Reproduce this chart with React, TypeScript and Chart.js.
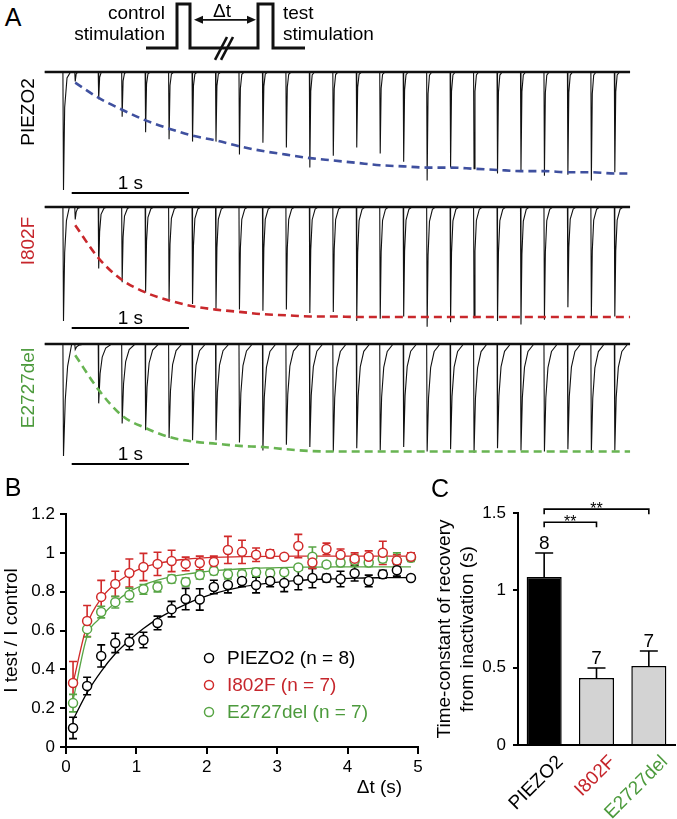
import React, { useEffect, useRef } from 'react';
import { Chart, registerables } from 'chart.js';

Chart.register(...registerables);

const FONT = '"Liberation Sans", Arial, Helvetica, sans-serif';
const RED = '#d12a2a';
const GREEN = '#58a545';
const BLUE = '#3f509f';
const RED_DASH = '#c9282c';
const GREEN_DASH = '#68b452';

// ---------------- Panel A : stimulation schematic ----------------
const STIM_X = [6, 37, 37, 50, 50, 118, 118, 133, 133, 165];
const STIM_Y = [0, 0, 1, 1, 0, 0, 1, 1, 0, 0];

// ---------------- Panel A : current traces ----------------
const TRACE_NAMES = ['PIEZO2', 'I802F', 'E2727del'];
const TEST_TIMES = [0.1, 0.3, 0.5, 0.7, 0.9, 1.1, 1.3, 1.5, 1.7, 1.9, 2.1, 2.3, 2.5, 2.7, 2.9, 3.1, 3.3, 3.5, 3.7, 3.9, 4.1, 4.3, 4.5, 4.7];
const PIEZO2_PEAKS = [0.08, 0.23, 0.38, 0.51, 0.57, 0.59, 0.59, 0.7, 0.6, 0.64, 0.81, 0.71, 0.64, 0.69, 0.76, 0.92, 0.81, 0.82, 0.86, 0.84, 0.88, 0.87, 0.92, 0.85];
const I802F_PEAKS = [0.11, 0.54, 0.66, 0.75, 0.82, 0.85, 0.89, 0.9, 0.91, 0.9, 0.93, 0.92, 1.0, 0.98, 0.96, 1.05, 1.01, 0.97, 1.0, 1.03, 0.99, 0.88, 0.96, 0.96];
const E2727DEL_PEAKS = [0.05, 0.53, 0.71, 0.77, 0.84, 0.86, 0.86, 0.88, 0.95, 0.9, 0.92, 0.96, 0.93, 0.95, 0.92, 0.96, 0.94, 0.97, 0.93, 0.95, 0.96, 0.94, 0.97, 0.95];
const TRACE_START = -0.16;
const TRACE_END = 4.83;
const FIT_TIMES_A = [...TEST_TIMES, TRACE_END];
const PIEZO2_FIT_A = [0.09, 0.22, 0.32, 0.41, 0.48, 0.54, 0.58, 0.63, 0.67, 0.7, 0.73, 0.75, 0.77, 0.79, 0.8, 0.81, 0.81, 0.82, 0.83, 0.84, 0.84, 0.85, 0.85, 0.86, 0.86];
const I802F_FIT_A = [0.16, 0.45, 0.64, 0.75, 0.82, 0.87, 0.9, 0.92, 0.94, 0.95, 0.96, 0.96, 0.965, 0.965, 0.965, 0.965, 0.965, 0.965, 0.965, 0.965, 0.965, 0.965, 0.965, 0.965, 0.965];
const E2727DEL_FIT_A = [0.1, 0.41, 0.64, 0.75, 0.83, 0.87, 0.89, 0.91, 0.92, 0.94, 0.955, 0.96, 0.96, 0.96, 0.96, 0.96, 0.96, 0.96, 0.96, 0.96, 0.96, 0.96, 0.96, 0.96, 0.96];

// spike waveform templates: [time offset (s), fraction of peak]
const NEEDLE_TEST = [[-0.004, 0], [0, -1], [0.008, -0.2], [0.02, -0.03], [0.04, 0]];
const NEEDLE_CTRL = [[-0.005, 0], [0, -1], [0.01, -0.3], [0.03, -0.05], [0.06, 0]];
const SLOW_TEST = [[-0.004, 0], [0, -1], [0.008, -0.4], [0.02, -0.12], [0.045, -0.02], [0.07, 0]];
const SLOW_CTRL = [[-0.005, 0], [0, -1], [0.01, -0.4], [0.025, -0.12], [0.05, 0]];
const SLOWER_TEST = [[-0.004, 0], [0, -1], [0.012, -0.5], [0.03, -0.22], [0.06, -0.07], [0.11, 0]];
const SLOWER_CTRL = [[-0.005, 0], [0, -1], [0.015, -0.5], [0.035, -0.2], [0.07, 0]];

// ---------------- Panel B ----------------
const DT = [0.1, 0.3, 0.5, 0.7, 0.9, 1.1, 1.3, 1.5, 1.7, 1.9, 2.1, 2.3, 2.5, 2.7, 2.9, 3.1, 3.3, 3.5, 3.7, 3.9, 4.1, 4.3, 4.5, 4.7, 4.9];
const PIEZO2_B = [0.098, 0.314, 0.469, 0.536, 0.541, 0.551, 0.639, 0.71, 0.762, 0.76, 0.824, 0.834, 0.855, 0.834, 0.855, 0.845, 0.86, 0.87, 0.87, 0.865, 0.895, 0.855, 0.89, 0.91, 0.87];
const PIEZO2_ERR = [0.055, 0.045, 0.057, 0.05, 0.04, 0.04, 0.035, 0.04, 0.055, 0.055, 0.035, 0.04, 0.03, 0.04, 0.03, 0.045, 0.05, 0.05, 0.02, 0.04, 0.04, 0.03, 0.02, 0.03, 0.01];
const I802F_B = [0.33, 0.649, 0.773, 0.84, 0.896, 0.927, 0.943, 0.958, 0.943, 0.948, 0.953, 1.015, 1.005, 0.99, 0.995, 0.98, 1.035, 0.95, 1.02, 0.99, 0.97, 0.98, 1.0, 0.96, 0.98];
const I802F_ERR = [0.11, 0.08, 0.085, 0.065, 0.072, 0.07, 0.06, 0.055, 0.035, 0.035, 0.03, 0.07, 0.06, 0.035, 0.02, 0.01, 0.06, 0.03, 0.03, 0.03, 0.03, 0.03, 0.06, 0.03, 0.02];
const E2727DEL_B = [0.226, 0.607, 0.695, 0.746, 0.783, 0.812, 0.824, 0.865, 0.85, 0.886, 0.907, 0.89, 0.89, 0.9, 0.895, 0.9, 0.925, 0.98, 0.94, 0.95, 0.96, 0.95, 0.97, 0.96, 0.975];
const E2727DEL_ERR = [0.045, 0.04, 0.03, 0.03, 0.035, 0.025, 0.025, 0.02, 0.02, 0.02, 0.02, 0.025, 0.02, 0.02, 0.02, 0.015, 0.01, 0.05, 0.01, 0.02, 0.03, 0.02, 0.02, 0.04, 0.02];
const FIT_T_B = [0.1, 0.3, 0.5, 0.7, 0.9, 1.1, 1.3, 1.5, 1.7, 1.9, 2.1, 2.5, 2.9, 3.3, 3.7, 4.1, 4.5, 4.9];
const PIEZO2_FIT_B = [0.14, 0.28, 0.39, 0.48, 0.55, 0.61, 0.66, 0.7, 0.735, 0.765, 0.79, 0.825, 0.845, 0.858, 0.865, 0.87, 0.872, 0.873];
const I802F_FIT_B = [0.33, 0.63, 0.765, 0.84, 0.89, 0.925, 0.945, 0.958, 0.967, 0.973, 0.977, 0.98, 0.982, 0.983, 0.983, 0.983, 0.983, 0.983];
const E2727DEL_FIT_B = [0.24, 0.57, 0.67, 0.745, 0.8, 0.835, 0.86, 0.878, 0.89, 0.9, 0.908, 0.918, 0.923, 0.926, 0.927, 0.928, 0.928, 0.928];
const LEGEND_B = ['PIEZO2 (n = 8)', 'I802F (n = 7)', 'E2727del (n = 7)'];
const X_TICKS_B = [0, 1, 2, 3, 4, 5];

// ---------------- Panel C ----------------
const GROUPS = ['PIEZO2', 'I802F', 'E2727del'];
const TAU = [1.086, 0.433, 0.511];
const TAU_ERR = [0.155, 0.065, 0.097];
const N_CELLS = [8, 7, 7];
const SIG_PAIRS = [[0, 1, 1.44, '**'], [0, 2, 1.525, '**']];

const GROUP_TEXT = ['#000', '#c6262c', '#4c9a3c'];
const BAR_FILL = ['#000000', '#d3d3d3', '#d3d3d3'];

function fmt(v: number) {
  return String(Math.round(v * 10) / 10);
}

function buildTrace(peaks: number[], testShape: number[][], ctrlShape: number[][]) {
  const pts: { x: number; y: number }[] = [{ x: TRACE_START, y: 0 }];
  ctrlShape.forEach(([dt, f]) => pts.push({ x: dt, y: f }));
  TEST_TIMES.forEach((t, i) => testShape.forEach(([dt, f]) => pts.push({ x: t + dt, y: f * peaks[i] })));
  pts.push({ x: TRACE_END, y: 0 });
  return pts;
}

// trace panel geometry (page px)
const X0 = 63.5; // page x of the control pulse
const PX_PER_S = 117.3;
const TRACE_LEFT = 40;
const TRACE_WIDTH = 600;

const TRACES = [
  { peaks: PIEZO2_PEAKS, fit: PIEZO2_FIT_A, test: NEEDLE_TEST, ctrl: NEEDLE_CTRL, fitColor: BLUE, top: 60, height: 145, base: 72, peak: 190, bar: 193 },
  { peaks: I802F_PEAKS, fit: I802F_FIT_A, test: SLOW_TEST, ctrl: SLOW_CTRL, fitColor: RED_DASH, top: 198, height: 140, base: 207, peak: 321, bar: 328 },
  { peaks: E2727DEL_PEAKS, fit: E2727DEL_FIT_A, test: SLOWER_TEST, ctrl: SLOWER_CTRL, fitColor: GREEN_DASH, top: 335, height: 140, base: 344, peak: 456, bar: 464 },
];

const baseOptions = {
  responsive: false,
  animation: false as const,
  devicePixelRatio: 1,
  events: [] as any[],
  plugins: { legend: { display: false }, tooltip: { enabled: false } },
};

function stimConfig(): any {
  const h = 66, base = 48, top = 4;
  const unit = base - top;
  return {
    type: 'line',
    data: {
      datasets: [{
        data: STIM_X.map((x, i) => ({ x, y: STIM_Y[i] })),
        borderColor: '#111', borderWidth: 3, pointRadius: 0, tension: 0,
        borderJoinStyle: 'miter', borderCapStyle: 'butt',
      }],
    },
    options: {
      ...baseOptions,
      layout: { padding: 0, autoPadding: false },
      scales: {
        x: { type: 'linear', display: false, min: 0, max: 170 },
        y: { type: 'linear', display: false, min: -(h - base) / unit, max: 1 + top / unit },
      },
    },
    plugins: [{
      id: 'stimDeco',
      afterDatasetsDraw(chart: any) {
        const { ctx } = chart;
        const xs = chart.scales.x, ys = chart.scales.y;
        ctx.save();
        ctx.strokeStyle = '#111';
        ctx.fillStyle = '#111';
        ctx.lineWidth = 1.6;
        const ay = ys.getPixelForValue(0.64);
        const ax1 = xs.getPixelForValue(54), ax2 = xs.getPixelForValue(116);
        ctx.beginPath(); ctx.moveTo(ax1 + 4, ay); ctx.lineTo(ax2 - 4, ay); ctx.stroke();
        [[ax1, 1], [ax2, -1]].forEach(([x, d]) => {
          ctx.beginPath(); ctx.moveTo(x, ay); ctx.lineTo(x + d * 9, ay - 4); ctx.lineTo(x + d * 9, ay + 4); ctx.closePath(); ctx.fill();
        });
        // break marks
        ctx.lineWidth = 2.6;
        [[75, 87], [81, 93]].forEach(([a, b]) => {
          ctx.beginPath();
          ctx.moveTo(xs.getPixelForValue(a), ys.getPixelForValue(-0.27));
          ctx.lineTo(xs.getPixelForValue(b), ys.getPixelForValue(0.25));
          ctx.stroke();
        });
        ctx.restore();
      },
    }],
  };
}

function traceConfig(tr: any): any {
  const unit = tr.peak - tr.base;
  const yMax = (tr.base - tr.top) / unit;
  const yMin = -(tr.top + tr.height - tr.base) / unit;
  const xMin = (TRACE_LEFT - X0) / PX_PER_S;
  const xMax = (TRACE_LEFT + TRACE_WIDTH - X0) / PX_PER_S;
  return {
    type: 'line',
    data: {
      datasets: [
        { data: FIT_TIMES_A.map((t, i) => ({ x: t, y: -tr.fit[i] })), borderColor: tr.fitColor, borderWidth: 2.6, borderDash: [8, 5], pointRadius: 0, cubicInterpolationMode: 'monotone', order: 1 },
        { data: buildTrace(tr.peaks, tr.test, tr.ctrl), borderColor: '#111', borderWidth: 1.1, pointRadius: 0, tension: 0, order: 2 },
        { data: [{ x: TRACE_START, y: 0 }, { x: TRACE_END, y: 0 }], borderColor: '#111', borderWidth: 2.6, pointRadius: 0, order: 3 },
      ],
    },
    options: {
      ...baseOptions,
      layout: { padding: 0, autoPadding: false },
      scales: {
        x: { type: 'linear', display: false, min: xMin, max: xMax },
        y: { type: 'linear', display: false, min: yMin, max: yMax },
      },
    },
    plugins: [{
      id: 'scaleBar',
      afterDatasetsDraw(chart: any) {
        const { ctx } = chart;
        const xs = chart.scales.x;
        const y = tr.bar - tr.top;
        const x1 = xs.getPixelForValue(0.07), x2 = xs.getPixelForValue(1.07);
        ctx.save();
        ctx.strokeStyle = '#000'; ctx.lineWidth = 2;
        ctx.beginPath(); ctx.moveTo(x1, y); ctx.lineTo(x2, y); ctx.stroke();
        ctx.fillStyle = '#000';
        ctx.font = `19px ${FONT}`;
        ctx.textAlign = 'center'; ctx.textBaseline = 'alphabetic';
        ctx.fillText('1 s', (x1 + x2) / 2, y - 4);
        ctx.restore();
      },
    }],
  };
}

const errorBarPlugin = {
  id: 'errorBarsB',
  beforeDatasetsDraw(chart: any) {
    const { ctx } = chart;
    const xs = chart.scales.x, ys = chart.scales.y;
    ctx.save();
    chart.data.datasets.forEach((ds: any) => {
      if (!ds.errors) return;
      ctx.strokeStyle = ds.borderColor;
      ctx.lineWidth = 1.6;
      ds.data.forEach((p: any, i: number) => {
        const e = ds.errors[i];
        if (!e) return;
        const x = xs.getPixelForValue(p.x);
        const yt = ys.getPixelForValue(p.y + e), yb = ys.getPixelForValue(p.y - e);
        ctx.beginPath();
        ctx.moveTo(x, yt); ctx.lineTo(x, yb);
        ctx.moveTo(x - 4, yt); ctx.lineTo(x + 4, yt);
        ctx.moveTo(x - 4, yb); ctx.lineTo(x + 4, yb);
        ctx.stroke();
      });
    });
    ctx.restore();
  },
};

const legendPluginB = {
  id: 'legendB',
  afterDatasetsDraw(chart: any) {
    const { ctx, chartArea } = chart;
    const colors = ['#000', RED, GREEN];
    const textColors = ['#000', '#c6262c', '#4c9a3c'];
    ctx.save();
    LEGEND_B.forEach((label, i) => {
      const cx = chartArea.left + 143;
      const cy = chartArea.top + 144 + i * 27;
      ctx.beginPath();
      ctx.arc(cx, cy, 4.5, 0, Math.PI * 2);
      ctx.fillStyle = '#fff'; ctx.fill();
      ctx.strokeStyle = colors[i]; ctx.lineWidth = 1.5; ctx.stroke();
      ctx.fillStyle = textColors[i];
      ctx.font = `19px ${FONT}`;
      ctx.textAlign = 'left'; ctx.textBaseline = 'middle';
      ctx.fillText(label, cx + 18, cy + 1);
    });
    ctx.restore();
  },
};

function panelBConfig(): any {
  const scatter = (ys: number[], errs: number[], color: string) => ({
    type: 'scatter',
    data: DT.map((t, i) => ({ x: t, y: ys[i] })),
    errors: errs,
    borderColor: color, backgroundColor: '#fff', pointRadius: 4.5, pointBorderWidth: 1.5,
    showLine: false, order: 1,
  });
  const fit = (ys: number[], color: string) => ({
    type: 'line',
    data: FIT_T_B.map((t, i) => ({ x: t, y: ys[i] })),
    borderColor: color, borderWidth: 1.3, pointRadius: 0, cubicInterpolationMode: 'monotone', order: 2,
  });
  const tickFont = { family: FONT, size: 17 };
  return {
    type: 'scatter',
    data: {
      datasets: [
        scatter(PIEZO2_B, PIEZO2_ERR, '#000'),
        scatter(I802F_B, I802F_ERR, RED),
        scatter(E2727DEL_B, E2727DEL_ERR, GREEN),
        fit(PIEZO2_FIT_B, '#000'),
        fit(I802F_FIT_B, RED),
        fit(E2727DEL_FIT_B, GREEN),
      ],
    },
    options: {
      ...baseOptions,
      clip: false,
      layout: { padding: { left: 0, right: 22, top: 29, bottom: 0 }, autoPadding: false },
      scales: {
        x: {
          type: 'linear', min: 0, max: 5,
          afterBuildTicks: (s: any) => { s.ticks = X_TICKS_B.map((v) => ({ value: v })); },
          ticks: { font: tickFont, color: '#000', padding: 3, callback: (v: number) => fmt(v) },
          grid: { drawOnChartArea: false, drawTicks: true, tickLength: 7, color: '#000', lineWidth: 2 },
          border: { display: true, color: '#000', width: 2 },
          title: { display: true, text: 'Δt (s)   ', align: 'end', color: '#000', font: { family: FONT, size: 19 }, padding: { top: 0, bottom: 20 } },
          afterFit: (s: any) => { s.height = 72; },
        },
        y: {
          type: 'linear', min: 0, max: 1.2,
          ticks: { stepSize: 0.2, font: tickFont, color: '#000', padding: 5, callback: (v: number) => fmt(v) },
          grid: { drawOnChartArea: false, drawTicks: true, tickLength: 6, color: '#000', lineWidth: 2 },
          border: { display: true, color: '#000', width: 2 },
          title: { display: true, text: 'I test / I control', color: '#000', font: { family: FONT, size: 19 }, padding: { top: 0, bottom: 0 } },
          afterFit: (s: any) => { s.width = 66; },
        },
      },
    },
    plugins: [errorBarPlugin, legendPluginB],
  };
}

function panelCConfig(): any {
  const tickFont = { family: FONT, size: 17 };
  return {
    type: 'bar',
    data: {
      labels: GROUPS,
      datasets: [{
        data: TAU,
        backgroundColor: BAR_FILL,
        borderColor: '#000', borderWidth: 1.5,
        barPercentage: 0.67, categoryPercentage: 1,
      }],
    },
    options: {
      ...baseOptions,
      layout: { padding: { left: 0, right: 2, top: 28, bottom: 0 }, autoPadding: false },
      scales: {
        x: {
          ticks: {
            font: { family: FONT, size: 19 }, color: (c: any) => GROUP_TEXT[c.index],
            minRotation: 45, maxRotation: 45, padding: 6, labelOffset: 16, autoSkip: false,
          },
          grid: { display: false, drawTicks: false, tickLength: 0 },
          border: { display: true, color: '#000', width: 2 },
          afterFit: (s: any) => { s.height = 74; },
        },
        y: {
          min: 0, max: 1.5,
          ticks: { stepSize: 0.5, font: tickFont, color: '#000', padding: 7, callback: (v: number) => fmt(v) },
          grid: { drawOnChartArea: false, drawTicks: true, tickLength: 5, color: '#000', lineWidth: 2 },
          border: { display: true, color: '#000', width: 2 },
          title: {
            display: true, text: ['Time-constant of recovery', 'from inactivation (s)'], color: '#000',
            font: { family: FONT, size: 19 }, padding: { top: 13.6, bottom: 0 },
          },
          afterFit: (s: any) => { s.width = 98; },
        },
      },
    },
    plugins: [{
      id: 'barDeco',
      afterDatasetsDraw(chart: any) {
        const { ctx } = chart;
        const ys = chart.scales.y;
        const meta = chart.getDatasetMeta(0);
        ctx.save();
        ctx.strokeStyle = '#000'; ctx.fillStyle = '#000'; ctx.lineWidth = 1.6;
        TAU.forEach((v, i) => {
          const bar = meta.data[i];
          const x = bar.x;
          const yTop = ys.getPixelForValue(v + TAU_ERR[i]);
          ctx.beginPath();
          ctx.moveTo(x, bar.y); ctx.lineTo(x, yTop);
          ctx.moveTo(x - 9, yTop); ctx.lineTo(x + 9, yTop);
          ctx.stroke();
          ctx.font = `19px ${FONT}`;
          ctx.textAlign = 'center'; ctx.textBaseline = 'alphabetic';
          ctx.fillText(String(N_CELLS[i]), x, yTop - 4);
        });
        SIG_PAIRS.forEach(([a, b, level, stars]: any) => {
          const xa = meta.data[a].x, xb = meta.data[b].x;
          const y = ys.getPixelForValue(level);
          ctx.beginPath();
          ctx.moveTo(xa, y + 5); ctx.lineTo(xa, y); ctx.lineTo(xb, y); ctx.lineTo(xb, y + 5);
          ctx.stroke();
          ctx.font = `16px ${FONT}`;
          ctx.textAlign = 'center'; ctx.textBaseline = 'alphabetic';
          ctx.fillText(stars, (xa + xb) / 2, y + 5);
        });
        ctx.restore();
      },
    }],
  };
}

type LabelProps = { text: string; x: number; y: number; size?: number; color?: string; anchor?: 'left' | 'center' | 'right'; rotate?: boolean };
function Label({ text, x, y, size = 19, color = '#000', anchor = 'center', rotate = false }: LabelProps) {
  const tx = anchor === 'left' ? '0' : anchor === 'right' ? '-100%' : '-50%';
  return (
    <div
      style={{
        position: 'absolute', left: x, top: y, fontFamily: FONT, fontSize: size, lineHeight: `${size}px`,
        color, whiteSpace: 'nowrap',
        transform: rotate ? 'translate(-50%, -50%) rotate(-90deg)' : `translate(${tx}, -50%)`,
      }}
    >
      {text}
    </div>
  );
}

const canvasStyle = (left: number, top: number, w: number, h: number): React.CSSProperties => ({
  position: 'absolute', left, top, width: w, height: h,
});

export default function App() {
  const stimRef = useRef<HTMLCanvasElement>(null);
  const t0 = useRef<HTMLCanvasElement>(null);
  const t1 = useRef<HTMLCanvasElement>(null);
  const t2 = useRef<HTMLCanvasElement>(null);
  const bRef = useRef<HTMLCanvasElement>(null);
  const cRef = useRef<HTMLCanvasElement>(null);
  const traceRefs = [t0, t1, t2];

  useEffect(() => {
    const charts: Chart[] = [];
    charts.push(new Chart(stimRef.current as HTMLCanvasElement, stimConfig()));
    TRACES.forEach((tr, i) => charts.push(new Chart(traceRefs[i].current as HTMLCanvasElement, traceConfig(tr))));
    charts.push(new Chart(bRef.current as HTMLCanvasElement, panelBConfig()));
    charts.push(new Chart(cRef.current as HTMLCanvasElement, panelCConfig()));
    return () => charts.forEach((c) => c.destroy());
  }, []);

  return (
    <div style={{ position: 'absolute', left: 0, top: 0, width: 677, height: 819, background: '#fff', overflow: 'hidden' }}>
      <canvas ref={stimRef} width={170} height={66} style={canvasStyle(140, 0, 170, 66)} />
      {TRACES.map((tr, i) => (
        <canvas key={i} ref={traceRefs[i]} width={TRACE_WIDTH} height={tr.height} style={canvasStyle(TRACE_LEFT, tr.top, TRACE_WIDTH, tr.height)} />
      ))}
      <canvas ref={bRef} width={440} height={334} style={canvasStyle(0, 485, 440, 334)} />
      <canvas ref={cRef} width={257} height={334} style={canvasStyle(420, 485, 257, 334)} />

      <Label text="A" x={13} y={17} size={25} />
      <Label text="B" x={13} y={487} size={25} />
      <Label text="C" x={440} y={488} size={25} />

      <Label text="control" x={165} y={12} anchor="right" />
      <Label text="stimulation" x={165} y={33} anchor="right" />
      <Label text="Δt" x={222} y={10} />
      <Label text="test" x={283} y={12} anchor="left" />
      <Label text="stimulation" x={283} y={33} anchor="left" />

      <Label text={TRACE_NAMES[0]} x={27} y={112} rotate />
      <Label text={TRACE_NAMES[1]} x={27} y={241} rotate color="#c6262c" />
      <Label text={TRACE_NAMES[2]} x={27} y={388} rotate color="#4c9a3c" />
    </div>
  );
}
